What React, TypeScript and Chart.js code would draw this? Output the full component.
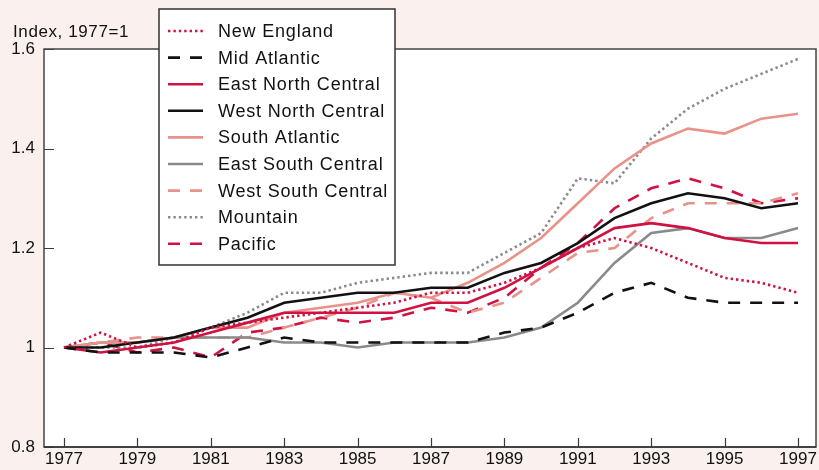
import React, { useEffect, useRef } from 'react';
import { Chart, registerables } from 'chart.js';

Chart.register(...registerables);

const years = [1977, 1978, 1979, 1980, 1981, 1982, 1983, 1984, 1985, 1986, 1987, 1988, 1989, 1990, 1991, 1992, 1993, 1994, 1995, 1996, 1997];
const xTickYears = [1977, 1979, 1981, 1983, 1985, 1987, 1989, 1991, 1993, 1995, 1997];
const yTickValues = [0.8, 1, 1.2, 1.4, 1.6];

const newEngland = [1.0, 1.03, 1.0, 1.01, 1.04, 1.05, 1.06, 1.07, 1.08, 1.09, 1.11, 1.11, 1.13, 1.16, 1.2, 1.22, 1.2, 1.17, 1.14, 1.13, 1.11];
const midAtlantic = [1.0, 0.99, 0.99, 0.99, 0.98, 1.0, 1.02, 1.01, 1.01, 1.01, 1.01, 1.01, 1.03, 1.04, 1.07, 1.11, 1.13, 1.1, 1.09, 1.09, 1.09];
const eastNorthCentral = [1.0, 0.99, 1.0, 1.01, 1.03, 1.05, 1.07, 1.07, 1.07, 1.07, 1.09, 1.09, 1.12, 1.16, 1.2, 1.24, 1.25, 1.24, 1.22, 1.21, 1.21];
const westNorthCentral = [1.0, 1.0, 1.01, 1.02, 1.04, 1.06, 1.09, 1.1, 1.11, 1.11, 1.12, 1.12, 1.15, 1.17, 1.21, 1.26, 1.29, 1.31, 1.3, 1.28, 1.29];
const southAtlantic = [1.0, 1.01, 1.01, 1.02, 1.04, 1.04, 1.07, 1.08, 1.09, 1.11, 1.1, 1.13, 1.17, 1.22, 1.29, 1.36, 1.41, 1.44, 1.43, 1.46, 1.47];
const eastSouthCentral = [1.0, 1.01, 1.01, 1.02, 1.02, 1.02, 1.01, 1.01, 1.0, 1.01, 1.01, 1.01, 1.02, 1.04, 1.09, 1.17, 1.23, 1.24, 1.22, 1.22, 1.24];
const westSouthCentral = [1.0, 1.01, 1.02, 1.02, 1.02, 1.02, 1.04, 1.06, 1.08, 1.11, 1.1, 1.07, 1.09, 1.14, 1.19, 1.2, 1.26, 1.29, 1.29, 1.29, 1.31];
const mountain = [1.0, 1.0, 1.0, 1.02, 1.04, 1.07, 1.11, 1.11, 1.13, 1.14, 1.15, 1.15, 1.19, 1.23, 1.34, 1.33, 1.42, 1.48, 1.52, 1.55, 1.58];
const pacific = [1.0, 1.01, 0.99, 1.0, 0.98, 1.03, 1.04, 1.06, 1.05, 1.06, 1.08, 1.07, 1.1, 1.16, 1.21, 1.28, 1.32, 1.34, 1.32, 1.29, 1.3];

const yAxisTitle = 'Index, 1977=1';

const CRIMSON = '#cf1242';
const SALMON = '#e8928a';
const GRAY = '#8a8a8a';
const BLACK = '#111111';
const BG = '#faf0ed';
const FONT = "'Liberation Sans', Arial, Helvetica, sans-serif";

const DOT = [2.4, 3];
const DASH = [12, 10];

const seriesDefs = [
  { label: 'New England', data: newEngland, color: CRIMSON, dash: DOT },
  { label: 'Mid Atlantic', data: midAtlantic, color: BLACK, dash: DASH },
  { label: 'East North Central', data: eastNorthCentral, color: CRIMSON, dash: [] },
  { label: 'West North Central', data: westNorthCentral, color: BLACK, dash: [] },
  { label: 'South Atlantic', data: southAtlantic, color: SALMON, dash: [] },
  { label: 'East South Central', data: eastSouthCentral, color: GRAY, dash: [] },
  { label: 'West South Central', data: westSouthCentral, color: SALMON, dash: DASH },
  { label: 'Mountain', data: mountain, color: GRAY, dash: DOT },
  { label: 'Pacific', data: pacific, color: CRIMSON, dash: DASH },
];

const framePlugin = {
  id: 'frame',
  beforeDraw(chart: any) {
    const { ctx, chartArea: a } = chart;
    ctx.save();
    ctx.fillStyle = BG;
    ctx.fillRect(0, 0, chart.width, chart.height);
    ctx.fillStyle = '#ffffff';
    ctx.fillRect(a.left, a.top, a.right - a.left, a.bottom - a.top);
    ctx.restore();
  },
  beforeDatasetsDraw(chart: any) {
    const { ctx, chartArea: a, scales } = chart;
    ctx.save();
    ctx.strokeStyle = '#3a3a3a';
    ctx.lineWidth = 1.2;
    // inward tick marks
    ctx.beginPath();
    for (const t of scales.x.ticks) {
      const px = Math.round(scales.x.getPixelForValue(t.value)) + 0.5;
      ctx.moveTo(px, a.bottom);
      ctx.lineTo(px, a.bottom - 9);
    }
    for (const t of scales.y.ticks) {
      const py = Math.round(scales.y.getPixelForValue(t.value)) + 0.5;
      ctx.moveTo(a.left, py);
      ctx.lineTo(a.left + 10, py);
    }
    ctx.stroke();
    ctx.restore();
  },
  afterDatasetsDraw(chart: any) {
    const { ctx, chartArea: a } = chart;
    ctx.save();
    ctx.strokeStyle = '#444444';
    ctx.lineWidth = 1.5;
    ctx.strokeRect(a.left, a.top, a.right - a.left, a.bottom - a.top);
    ctx.strokeStyle = '#333333';
    ctx.lineWidth = 1.6;
    ctx.beginPath();
    ctx.moveTo(a.left, a.bottom);
    ctx.lineTo(a.right, a.bottom);
    ctx.stroke();
    // axis title
    ctx.fillStyle = '#111111';
    ctx.font = `17px ${FONT}`;
    (ctx as any).letterSpacing = '0.6px';
    ctx.textBaseline = 'alphabetic';
    ctx.textAlign = 'left';
    ctx.fillText(yAxisTitle, 13, 37);
    ctx.restore();
  },
  afterDraw(chart: any) {
    const { ctx } = chart;
    const box = { left: 159, top: 9, right: 395, bottom: 265 };
    ctx.save();
    ctx.fillStyle = '#ffffff';
    ctx.fillRect(box.left, box.top, box.right - box.left, box.bottom - box.top);
    ctx.strokeStyle = '#333333';
    ctx.lineWidth = 1.5;
    ctx.strokeRect(box.left, box.top, box.right - box.left, box.bottom - box.top);
    const rowH = 26.6;
    chart.data.datasets.forEach((ds: any, i: number) => {
      const cy = box.top + 22 + i * rowH;
      ctx.beginPath();
      ctx.strokeStyle = ds.borderColor;
      ctx.lineWidth = ds.borderWidth;
      ctx.setLineDash(ds.borderDash || []);
      ctx.moveTo(168, cy);
      ctx.lineTo(203, cy);
      ctx.stroke();
      ctx.setLineDash([]);
      ctx.fillStyle = '#111111';
      ctx.font = `18px ${FONT}`;
      (ctx as any).letterSpacing = '0.8px';
      ctx.textBaseline = 'middle';
      ctx.textAlign = 'left';
      ctx.fillText(ds.label, 218, cy + 1);
    });
    ctx.restore();
  },
};

export default function App() {
  const ref = useRef<HTMLCanvasElement | null>(null);

  useEffect(() => {
    if (!ref.current) return;
    const chart = new Chart(ref.current, {
      type: 'line',
      data: {
        datasets: seriesDefs.map((s) => ({
          label: s.label,
          data: years.map((yr, i) => ({ x: yr, y: s.data[i] })),
          borderColor: s.color,
          backgroundColor: s.color,
          borderWidth: 2.6,
          borderDash: s.dash,
          borderCapStyle: 'butt',
          pointRadius: 0,
          tension: 0,
          fill: false,
        })),
      },
      options: {
        animation: false,
        responsive: false,
        maintainAspectRatio: false,
        layout: { padding: { top: 49, right: 3, left: 0, bottom: 0 } },
        plugins: {
          legend: { display: false },
          tooltip: { enabled: false },
          title: { display: false },
        },
        scales: {
          x: {
            type: 'linear',
            min: 1976.455,
            max: 1997.49,
            afterBuildTicks: (s: any) => {
              s.ticks = xTickYears.map((v) => ({ value: v }));
            },
            afterFit: (s: any) => {
              s.height = 23;
            },
            grid: { display: false, drawTicks: false },
            border: { display: false },
            ticks: {
              autoSkip: false,
              maxRotation: 0,
              padding: 2,
              color: '#111111',
              font: { size: 17, family: FONT },
              callback: (v: any) => String(v),
            },
          },
          y: {
            type: 'linear',
            min: 0.8,
            max: 1.6,
            afterBuildTicks: (s: any) => {
              s.ticks = yTickValues.map((v) => ({ value: v }));
            },
            afterFit: (s: any) => {
              s.width = 44;
            },
            grid: { display: false, drawTicks: false },
            border: { display: false },
            ticks: {
              padding: 9,
              color: '#111111',
              font: { size: 17, family: FONT },
              callback: (v: any) => String(Number(Number(v).toFixed(1))),
            },
          },
        },
      },
      plugins: [framePlugin],
    } as any);
    return () => chart.destroy();
  }, []);

  return (
    <div style={{ position: 'fixed', left: 0, top: 0, width: 819, height: 470, background: BG }}>
      <canvas ref={ref} width={819} height={470} style={{ display: 'block', width: 819, height: 470 }} />
    </div>
  );
}
